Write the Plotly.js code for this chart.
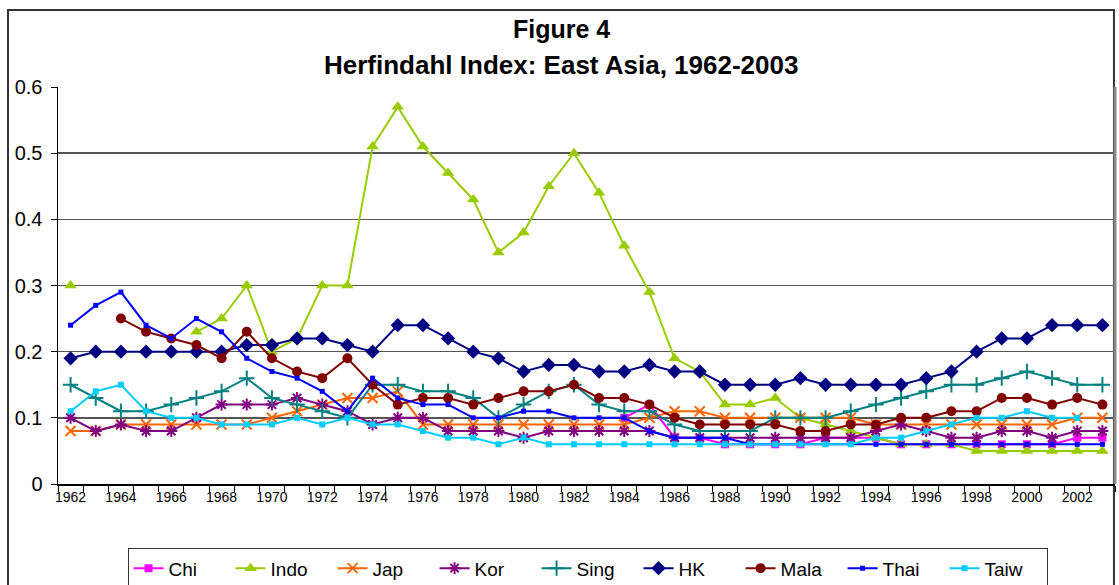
<!DOCTYPE html>
<html>
<head>
<meta charset="utf-8">
<script src="https://cdn.plot.ly/plotly-3.0.1.min.js"></script>
<style>html,body{margin:0;padding:0;background:#fff;}#chart{width:1119px;height:585px;}</style>
</head>
<body>
<div id="chart"></div>
<script>
const years = [];
for (let y = 1962; y <= 2003; y++) years.push(y);
const tickYears = [1962,1964,1966,1968,1970,1972,1974,1976,1978,1980,1982,1984,1986,1988,1990,1992,1994,1996,1998,2000,2002];

const chi = [null,null,null,null,null,null,null,null,null,null,null,null,null,null,null,null,null,null,null,null,null,null,
  0.10,0.12,0.07,0.07,0.06,0.06,0.06,0.06,0.07,0.07,0.07,0.06,0.06,0.06,0.06,0.06,0.06,0.06,0.07,0.07];
const indo = [0.30,null,null,null,null,0.23,0.25,0.30,0.20,0.22,0.30,0.30,0.51,0.57,0.51,0.47,0.43,0.35,0.38,0.45,0.50,0.44,
  0.36,0.29,0.19,0.17,0.12,0.12,0.13,0.10,0.09,0.08,0.07,0.06,0.06,0.06,0.05,0.05,0.05,0.05,0.05,0.05];
const jap = [0.08,0.08,0.09,0.09,0.09,0.09,0.09,0.09,0.10,0.11,0.12,0.13,0.13,0.14,0.09,0.09,0.09,0.09,0.09,0.09,0.09,0.09,
  0.09,0.10,0.11,0.11,0.10,0.10,0.10,0.10,0.10,0.10,0.09,0.09,0.09,0.09,0.09,0.09,0.09,0.09,0.10,0.10];
const kor = [0.10,0.08,0.09,0.08,0.08,0.10,0.12,0.12,0.12,0.13,0.12,0.11,0.09,0.10,0.10,0.08,0.08,0.08,0.07,0.08,0.08,0.08,
  0.08,0.08,0.07,0.07,0.07,0.07,0.07,0.07,0.07,0.07,0.08,0.09,0.08,0.07,0.07,0.08,0.08,0.07,0.08,0.08];
const sing = [0.15,0.13,0.11,0.11,0.12,0.13,0.14,0.16,0.13,0.12,0.11,0.10,0.15,0.15,0.14,0.14,0.13,0.10,0.12,0.14,0.15,0.12,
  0.11,0.11,0.09,0.08,0.08,0.08,0.10,0.10,0.10,0.11,0.12,0.13,0.14,0.15,0.15,0.16,0.17,0.16,0.15,0.15];
const hk = [0.19,0.20,0.20,0.20,0.20,0.20,0.20,0.21,0.21,0.22,0.22,0.21,0.20,0.24,0.24,0.22,0.20,0.19,0.17,0.18,0.18,0.17,
  0.17,0.18,0.17,0.17,0.15,0.15,0.15,0.16,0.15,0.15,0.15,0.15,0.16,0.17,0.20,0.22,0.22,0.24,0.24,0.24];
const mala = [null,null,0.25,0.23,0.22,0.21,0.19,0.23,0.19,0.17,0.16,0.19,0.15,0.12,0.13,0.13,0.12,0.13,0.14,0.14,0.15,0.13,
  0.13,0.12,0.10,0.09,0.09,0.09,0.09,0.08,0.08,0.09,0.09,0.10,0.10,0.11,0.11,0.13,0.13,0.12,0.13,0.12];
const thai = [0.24,0.27,0.29,0.24,0.22,0.25,0.23,0.19,0.17,0.16,0.14,0.11,0.16,0.13,0.12,0.12,0.10,0.10,0.11,0.11,0.10,0.10,
  0.10,0.08,0.07,0.07,0.07,0.06,0.06,0.06,0.06,0.06,0.06,0.06,0.06,0.06,0.06,0.06,0.06,0.06,0.06,0.06];
const taiw = [0.11,0.14,0.15,0.11,0.10,0.10,0.09,0.09,0.09,0.10,0.09,0.10,0.09,0.09,0.08,0.07,0.07,0.06,0.07,0.06,0.06,0.06,
  0.06,0.06,0.06,0.06,0.06,0.06,0.06,0.06,0.06,0.06,0.07,0.07,0.08,0.09,0.10,0.10,0.11,0.10,0.10,null];

const seriesNames = ["Chi","Indo","Jap","Kor","Sing","HK","Mala","Thai","Taiw"];
const seriesData = [chi, indo, jap, kor, sing, hk, mala, thai, taiw];
const styles = [
  {color:"#FF00FF", symbol:"square", size:8, lw:0},
  {color:"#99CC00", symbol:"triangle-up", size:11, lw:0},
  {color:"#FF6600", symbol:"x-thin-open", size:10, lw:2},
  {color:"#800080", symbol:"asterisk-open", size:10, lw:2},
  {color:"#008080", symbol:"cross-thin-open", size:11, lw:2},
  {color:"#000080", symbol:"diamond", size:11, lw:0},
  {color:"#800000", symbol:"circle", size:10, lw:0},
  {color:"#0000FF", symbol:"square", size:5, lw:0},
  {color:"#00CCFF", symbol:"square", size:6, lw:0}
];

const traces = seriesNames.map((n, i) => ({
  type: "scatter",
  mode: "lines+markers",
  name: n,
  x: years,
  y: seriesData[i],
  connectgaps: false,
  line: {color: styles[i].color, width: 2},
  marker: {symbol: styles[i].symbol, size: styles[i].size, color: styles[i].color,
           line: {color: styles[i].color, width: styles[i].lw}}
}));

const FONT = "Liberation Sans, Arial, sans-serif";
const layout = {
  width: 1119, height: 585,
  margin: {l: 58, r: 4, t: 87, b: 101, autoexpand: false},
  paper_bgcolor: "#fff", plot_bgcolor: "#fff",
  showlegend: true,
  font: {family: FONT, color: "#000"},
  xaxis: {
    range: [1961.5, 2003.5],
    tickvals: tickYears,
    ticktext: tickYears.map(String),
    ticks: "",
    tickfont: {size: 14, family: FONT, color: "#000"},
    showgrid: false, zeroline: false,
    showline: true, linecolor: "#000", linewidth: 1.5,
    minor: {tick0: 1961.5, dtick: 1, ticks: "outside", ticklen: 6, tickcolor: "#000", tickwidth: 1, showgrid: false},
    automargin: false,
    fixedrange: true
  },
  yaxis: {
    range: [0, 0.6],
    dtick: 0.1,
    ticks: "outside", ticklen: 6, tickcolor: "#000",
    ticklabelstandoff: 4,
    tickfont: {size: 20, family: FONT, color: "#000"},
    showgrid: true, gridcolor: "#555", gridwidth: 1.5,
    zeroline: false,
    showline: true, linecolor: "#000", linewidth: 1.5,
    automargin: false,
    fixedrange: true
  },
  legend: {
    orientation: "h",
    x: 0.501, xanchor: "center",
    y: -0.162, yanchor: "top",
    bordercolor: "#333", borderwidth: 1,
    font: {size: 19, family: FONT, color: "#000"},
    itemwidth: 30,
    entrywidth: 57, entrywidthmode: "pixels",
    traceorder: "normal"
  },
  annotations: [
    {text: "<b>Figure 4</b>", xref: "paper", yref: "paper", x: 0.476, y: 1.145, xanchor: "center", yanchor: "middle",
     showarrow: false, font: {size: 25, family: FONT, color: "#000"}},
    {text: "<b>Herfindahl Index: East Asia, 1962-2003</b>", xref: "paper", yref: "paper", x: 0.476, y: 1.055, xanchor: "center", yanchor: "middle",
     showarrow: false, font: {size: 26, family: FONT, color: "#000"}}
  ],
  shapes: [
    {type: "rect", xref: "paper", yref: "paper", x0: -0.0473, x1: 0.999, y0: -0.3, y1: 1.194,
     line: {color: "#333", width: 2}, fillcolor: "rgba(0,0,0,0)", layer: "below"},
    {type: "line", xref: "paper", yref: "paper", x0: 1, x1: 1, y0: 0, y1: 1,
     line: {color: "#888", width: 3}}
  ]
};

Plotly.newPlot("chart", traces, layout, {displayModeBar: false, staticPlot: true});
</script>
</body>
</html>
